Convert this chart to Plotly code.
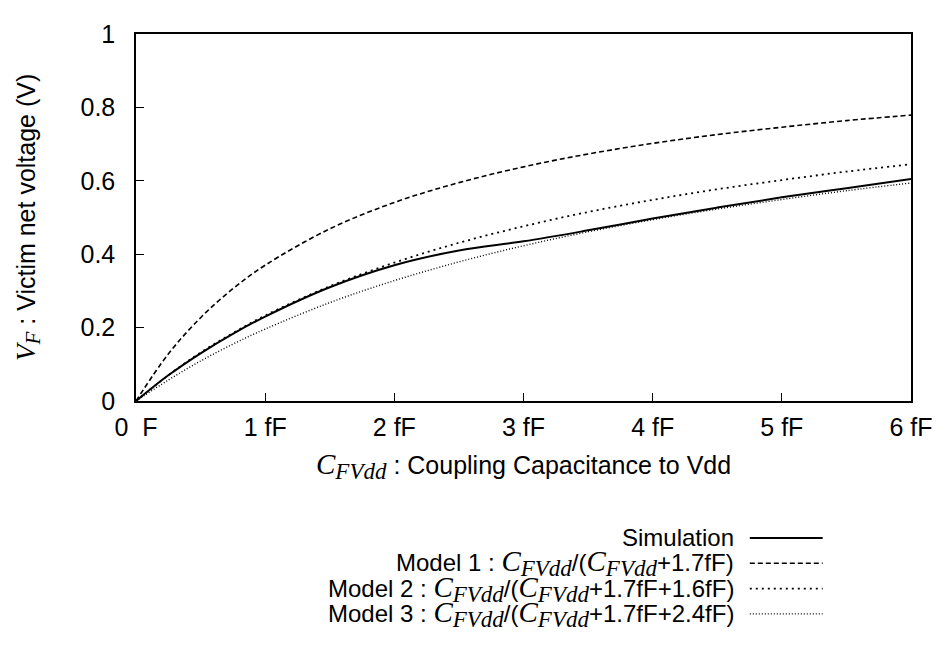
import plotly.graph_objects as go

# coupling capacitance (fF) and victim net voltage (V)
cap = [0, 0.25, 0.5, 0.75, 1, 1.5, 2, 2.5, 3, 3.5, 4, 4.5, 5, 5.5, 6]
simulation = [0, 0.07, 0.13, 0.183, 0.23, 0.31, 0.37, 0.41, 0.435, 0.465, 0.497, 0.527, 0.555, 0.58, 0.605]
model1 = [0, 0.128, 0.227, 0.306, 0.37, 0.469, 0.541, 0.595, 0.638, 0.673, 0.702, 0.726, 0.746, 0.764, 0.779]
model2 = [0, 0.07, 0.132, 0.185, 0.233, 0.3125, 0.377, 0.431, 0.476, 0.515, 0.548, 0.577, 0.602, 0.625, 0.645]
model3 = [0, 0.057, 0.109, 0.155, 0.196, 0.268, 0.328, 0.379, 0.423, 0.461, 0.494, 0.523, 0.549, 0.573, 0.594]

xtick_vals = [0, 1, 2, 3, 4, 5, 6]
xtick_text = ["0\u00a0\u00a0F", "1 fF", "2 fF", "3 fF", "4 fF", "5 fF", "6 fF"]
ytick_vals = [0, 0.2, 0.4, 0.6, 0.8, 1]
ytick_text = ["0", "0.2", "0.4", "0.6", "0.8", "1"]

SERIF = "font-family:'Liberation Serif', 'Times New Roman', serif"


def sym(main, sub, big=29, small=23):
    # italic serif symbol with a big gnuplot-like subscript
    return ("<span style=\"%s;font-size:%dpx\"><i>%s</i></span>"
            "<sub><span style=\"%s;font-size:%dpx\"><i>%s</i></span></sub>") % (SERIF, big, main, SERIF, small, sub)


cf = sym("C", "FVdd")
vf = sym("V", "F", 27, 21)

legend_names = [
    "Simulation",
    "Model 1 : " + cf + "/(" + cf + "+1.7fF)",
    "Model 2 : " + cf + "/(" + cf + "+1.7fF+1.6fF)",
    "Model 3 : " + cf + "/(" + cf + "+1.7fF+2.4fF)",
]
series = [simulation, model1, model2, model3]
dashes = ["solid", "5px,3px", "2px,4px", "1px,2px"]
widths = [2, 1.6, 1.8, 1.4]

fig = go.Figure()
for ys, d, w in zip(series, dashes, widths):
    fig.add_trace(go.Scatter(x=cap, y=ys, mode="lines", line=dict(color="black", width=w, dash=d, shape="spline"),
                             showlegend=False, hoverinfo="skip"))

# hand-made legend below the plot (text on the left, sample line on the right)
leg_y = [-0.373, -0.442, -0.511, -0.580]
for name, yy, d, w in zip(legend_names, leg_y, dashes, widths):
    fig.add_annotation(x=0.774, y=yy, xref="paper", yref="paper", text=name, showarrow=False,
                       xanchor="right", yanchor="middle", font=dict(size=24, color="black"))
    fig.add_shape(type="line", xref="paper", yref="paper", x0=0.792, x1=0.886, y0=yy, y1=yy,
                  line=dict(color="black", width=w, dash=d))

# axis titles
fig.add_annotation(x=-0.14, y=0.5, xref="paper", yref="paper", textangle=-90, showarrow=False,
                   xanchor="center", yanchor="middle",
                   text=vf + " : Victim net voltage (V)", font=dict(size=25, color="black"))
fig.add_annotation(x=0.5, y=-0.178, xref="paper", yref="paper", showarrow=False,
                   xanchor="center", yanchor="middle",
                   text=cf + " : Coupling Capacitance to Vdd", font=dict(size=25, color="black"))

fig.update_xaxes(range=[0, 6], tickvals=xtick_vals, ticktext=xtick_text, ticks="inside", ticklen=8,
                 tickcolor="black", showline=True, linecolor="black", linewidth=1.5, mirror=True,
                 showgrid=False, zeroline=False, ticklabelstandoff=3, ticklabeloverflow="allow",
                 tickfont=dict(size=25, color="black"))
fig.update_yaxes(range=[0, 1], tickvals=ytick_vals, ticktext=ytick_text, ticks="inside", ticklen=8,
                 tickcolor="black", showline=True, linecolor="black", linewidth=1.5, mirror=True,
                 showgrid=False, zeroline=False, ticklabelstandoff=14, ticklabeloverflow="allow",
                 tickfont=dict(size=25, color="black"))
# page body has an 8px margin, so the figure is 8px smaller than the window
fig.update_layout(width=937, height=643, margin=dict(l=128, r=30, t=13, b=250),
                  plot_bgcolor="white", paper_bgcolor="white",
                  font=dict(family="Liberation Sans, Arial, sans-serif", color="black"))

fig.write_html("out.html")
